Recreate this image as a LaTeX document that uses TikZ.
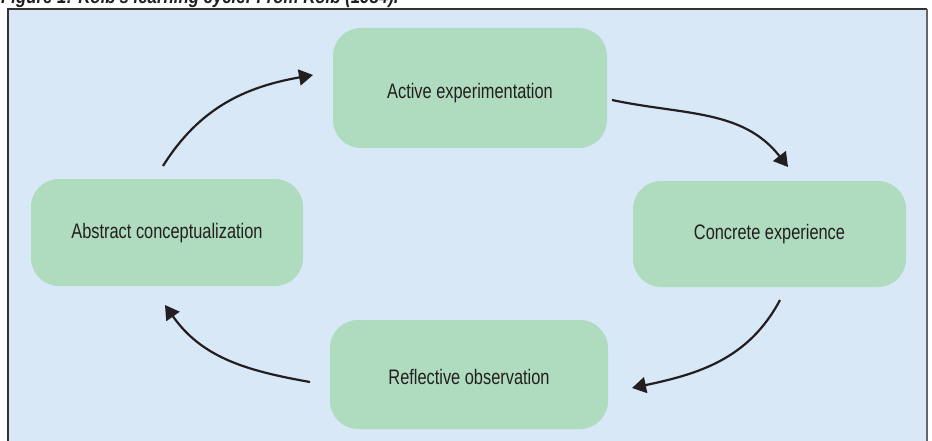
\documentclass[tikz,border=0pt]{standalone}
\usepackage{fontspec}
\setmainfont{Liberation Sans}
\newfontfamily\boxfont[FakeStretch=0.78]{Liberation Sans}
\newfontfamily\titlefont[FakeStretch=0.84]{Liberation Sans}
\usetikzlibrary{arrows.meta}
\definecolor{bgblue}{HTML}{D9E8F6}
\definecolor{boxgreen}{HTML}{AFDBBE}
\definecolor{inkc}{HTML}{231F20}
\definecolor{framec}{HTML}{333333}
\tikzset{
  stagebox/.style={fill=boxgreen, draw=none, rounded corners=28pt, minimum width=274pt, minimum height=107pt, inner sep=0pt, font=\boxfont\fontsize{21}{23}\selectfont, text=inkc, text height=15pt, text depth=4pt},
  cyclearrow/.style={draw=inkc, line width=2.2pt, -{Triangle[width=16pt,length=14pt]}}
}
\begin{document}
\begin{tikzpicture}[x=1pt,y=1pt]
\useasboundingbox (0,0) rectangle (932,440);
\fill[bgblue] (8,-5) rectangle (927,431);
\draw[framec, line width=1.5pt] (8,-5) -- (8,431) -- (927,431);
\draw[gray!80!black, line width=2.5pt] (927,431) -- (927,-5);
\node[anchor=base west, inner sep=0pt, text=inkc, font=\titlefont\fontsize{20}{22}\selectfont\bfseries\itshape] (title) at (1,436) {Figure 1: Kolb's learning cycle. From Kolb (1984).};
\node[stagebox, minimum height=120pt, text height=25pt] (act) at (470,352) {Active experimentation};
\node[stagebox, minimum width=273pt, minimum height=106pt] (con) at (769.5,206) {Concrete experience};
\node[stagebox, minimum width=272pt] (abs) at (167,207.5) {Abstract conceptualization};
\node[stagebox, minimum width=278pt, minimum height=109pt, text height=23pt] (ref) at (469,65.5) {Reflective observation};
\coordinate (a1s) at (163,274);
\coordinate (a1e) at (313,365);
\coordinate (a2s) at (612,340);
\coordinate (a2e) at (788,273);
\coordinate (a3s) at (780,140);
\coordinate (a3e) at (632,52);
\coordinate (a4s) at (310,58);
\coordinate (a4e) at (165,135);
\draw[cyclearrow] (a1s) to[out=58, in=190] (a1e);
\draw[cyclearrow] (a2s) to[out=-12, in=128] (a2e);
\draw[cyclearrow] (a3s) to[out=-118, in=12] (a3e);
\draw[cyclearrow] (a4s) to[out=170, in=-55] (a4e);
\end{tikzpicture}
\end{document}
